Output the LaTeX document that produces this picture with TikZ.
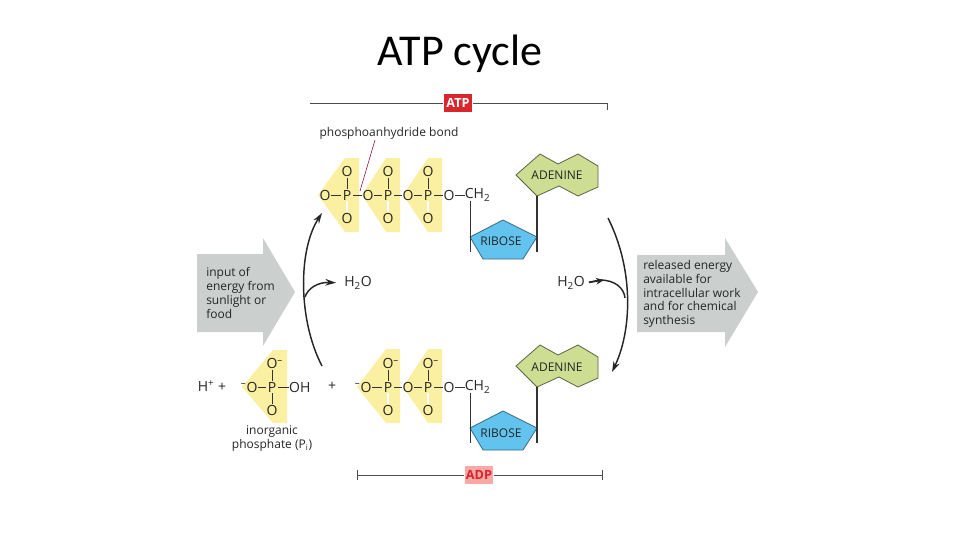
\documentclass[tikz,border=0pt]{standalone}
\usepackage{fontspec}
\setmainfont{Open Sans}
\newfontfamily\titlefont{Carlito}
\usepackage{tikz}
\usetikzlibrary{arrows.meta, positioning}
\definecolor{phosyellow}{HTML}{FBEFA2}
\definecolor{adeninegreen}{HTML}{CDDD92}
\definecolor{ribosecyan}{HTML}{62C3EE}
\definecolor{energygrey}{HTML}{CBCFCE}
\definecolor{atpred}{HTML}{D9252C}
\definecolor{adppink}{HTML}{F6A9A5}

\begin{document}
\begin{tikzpicture}[
  x=0.75pt, y=-0.75pt,
  node distance=6pt and 6pt,
  every node/.style={font=\fontsize{9}{10.3}\selectfont, text=black!85},
  atom/.style={minimum size=9pt, inner sep=0pt, font=\fontsize{10.5}{12}\selectfont},
  bond/.style={black!80, line width=0.5pt},
  dblbond/.style={black!80, double, double distance=1pt, line width=0.35pt},
  phos/.style={fill=phosyellow},
  cycle/.style={-{Stealth[length=8pt, width=5pt]}, line width=1.1pt, black!85},
  energy/.style={fill=energygrey},
  energytext/.style={align=left, anchor=west, inner sep=0pt},
  sugar/.style={fill=ribosecyan, draw=ribosecyan!55!black, line width=0.6pt},
  base/.style={fill=adeninegreen, draw=adeninegreen!45!black, line width=0.6pt},
  molname/.style={inner sep=0pt, font=\fontsize{9}{10}\selectfont},
  span/.style={black!70, line width=0.5pt},
  tag/.style={minimum width=21.5pt, minimum height=14pt, inner sep=0pt, font=\fontsize{9.5}{10}\selectfont\bfseries},
]
\useasboundingbox (0,0) rectangle (960,540);

% Title
\node[inner sep=0pt, font=\titlefont\fontsize{33}{36}\selectfont, text=black] (title) at (460,54) {ATP cycle};

% Energy arrows
\path[energy] (197,254) -- (263,254) -- (263,238) -- (295,292) -- (263,346) -- (263,332) -- (197,332) -- cycle;
\path[energy] (637,255) -- (725,255) -- (725,238) -- (758,292) -- (725,347) -- (725,332) -- (637,332) -- cycle;
\node[energytext] (input) at (206,293) {input of\\energy from\\sunlight or\\food};
\node[energytext] (released) at (643,294) {released energy\\available for\\intracellular work\\and for chemical\\synthesis};

% Phosphate backgrounds
\path[phos] (318,195) -- (345,158) -- (359,158) -- (359,232) -- (345,232) -- cycle;
\path[phos] (362,195) -- (386,158) -- (400,158) -- (400,232) -- (386,232) -- cycle;
\path[phos] (403,195) -- (428,158) -- (442,158) -- (442,232) -- (428,232) -- cycle;
\path[phos] (357,387) -- (386,349) -- (400,349) -- (400,423) -- (386,423) -- cycle;
\path[phos] (403,387) -- (428,349) -- (442,349) -- (442,423) -- (428,423) -- cycle;
\path[phos] (242,387) -- (273,350) -- (287,350) -- (287,423) -- (273,423) -- cycle;

% ATP phosphates
\node[atom] (oa) at (325,195) {O};
\node[atom] (pa) at (347,195) {P};
\node[atom] (ob) at (368,195) {O};
\node[atom] (pb) at (388,195) {P};
\node[atom] (oc) at (408,195) {O};
\node[atom] (pc) at (428,195) {P};
\node[atom] (od) at (449,195) {O};
\node[atom, right=7pt of od] (cha) {CH\textsubscript{2}};
\node[atom, above=8pt of pa] (oat) {O};
\node[atom, below=8pt of pa] (oab) {O};
\node[atom, above=8pt of pb] (obt) {O};
\node[atom, below=8pt of pb] (obb) {O};
\node[atom, above=8pt of pc] (oct) {O};
\node[atom, below=8pt of pc] (ocb) {O};
\draw[bond] (oa) -- (pa) -- (ob) -- (pb) -- (oc) -- (pc) -- (od) -- (cha);
\draw[bond] (pa) -- (oat);
\draw[bond] (pb) -- (obt);
\draw[bond] (pc) -- (oct);
\draw[dblbond] (pa) -- (oab);
\draw[dblbond] (pb) -- (obb);
\draw[dblbond] (pc) -- (ocb);

% ADP phosphates
\node[atom] (oe) at (366,387) {\llap{\textsuperscript{--}}O};
\node[atom] (pe) at (388,387) {P};
\node[atom] (of) at (408,387) {O};
\node[atom] (pf) at (428,387) {P};
\node[atom] (og) at (449,387) {O};
\node[atom, right=7pt of og] (chb) {CH\textsubscript{2}};
\node[atom, above=8pt of pe] (oet) {O\rlap{\textsuperscript{--}}};
\node[atom, below=8pt of pe] (oeb) {O};
\node[atom, above=8pt of pf] (oft) {O\rlap{\textsuperscript{--}}};
\node[atom, below=8pt of pf] (ofb) {O};
\draw[bond] (oe) -- (pe) -- (of) -- (pf) -- (og) -- (chb);
\draw[bond] (pe) -- (oet);
\draw[bond] (pf) -- (oft);
\draw[dblbond] (pe) -- (oeb);
\draw[dblbond] (pf) -- (ofb);

% Inorganic phosphate
\node[atom] (hplus) at (212,386) {H\textsuperscript{+} +};
\node[atom] (oi) at (252,387) {\llap{\textsuperscript{--}}O};
\node[atom] (pi) at (272,387) {P};
\node[atom, right=8pt of pi] (oh) {OH};
\node[atom, above=8pt of pi] (oit) {O\rlap{\textsuperscript{--}}};
\node[atom, below=8pt of pi] (oib) {O};
\node[atom] (plus) at (332,386) {+};
\draw[bond] (oi) -- (pi) -- (oh);
\draw[bond] (pi) -- (oit);
\draw[bond] (pi) -- (oib);
\node[align=center, inner sep=0pt, below=7pt of oib] (pilabel) {inorganic\\phosphate (P\textsubscript{i})};

% Ribose and adenine of ATP
\draw[sugar] (470,237) coordinate (ribal) -- (503,220) -- (537,237) coordinate (ribar) -- (523,259) -- (483,259) -- cycle;
\node[molname] (ribosea) at (501,241) {RIBOSE};
\draw[base] (516,175) -- (540,154) -- (558,164) -- (578,154) -- (598,166) -- (598,187) -- (578,196) -- (559,186) -- (537,196) coordinate (adea) -- cycle;
\node[molname] (adeninea) at (557,175) {ADENINE};
\coordinate (enda) at (470,252);
\coordinate (endb) at (537,252);
\draw[bond] (cha.south -| ribal) -- (enda);
\draw[bond, line width=0.9pt] (adea) -- (endb);

% Ribose and adenine of ADP
\draw[sugar] (470,428) coordinate (ribbl) -- (503,411) -- (537,428) coordinate (ribbr) -- (523,450) -- (483,450) -- cycle;
\node[molname] (riboseb) at (501,433) {RIBOSE};
\draw[base] (516,366) -- (540,345) -- (558,355) -- (578,345) -- (598,357) -- (598,378) -- (578,387) -- (559,377) -- (537,387) coordinate (adeb) -- cycle;
\node[molname] (adenineb) at (557,367) {ADENINE};
\coordinate (endc) at (470,443);
\coordinate (endd) at (537,443);
\draw[bond] (chb.south -| ribbl) -- (endc);
\draw[bond, line width=0.9pt] (adeb) -- (endd);

% Brackets
\node[tag, fill=atpred, text=white] (atp) at (458,103) {ATP};
\node[tag, fill=adppink, text=atpred] (adp) at (479,475) {ADP};
\coordinate (atpl) at (310,103);
\coordinate (atpr) at (607,103);
\coordinate (atptick) at (607,110);
\coordinate (adpl) at (357,475);
\coordinate (adpr) at (602,475);
\draw[span] (atpl) -- (atp) -- (atpr) -- (atptick);
\draw[span] (adpl) -- (adp) -- (adpr);
\draw[span] ([yshift=4pt]adpl) -- ([yshift=-4pt]adpl);
\draw[span] ([yshift=4pt]adpr) -- ([yshift=-4pt]adpr);

% Bond label
\node[inner sep=0pt] (bondlabel) at (389,133) {phosphoanhydride bond};
\coordinate (bondtip) at (360,191);
\draw[line width=0.4pt, purple!70!black] (375,140) coordinate (bondtop) -- (bondtip);

% Water
\node[atom] (wl) at (358,283) {H\textsubscript{2}O};
\node[atom] (wr) at (571,283) {H\textsubscript{2}O};

% Cycle arrows
\coordinate (lstart) at (322,366);
\coordinate (lend) at (322,213);
\coordinate (lmid) at (305,297);
\coordinate (rstart) at (608,218);
\coordinate (rend) at (612,372);
\coordinate (rmid) at (625,298);
\draw[cycle] (lstart) .. controls (298,320) and (298,250) .. (lend);
\draw[cycle] (rstart) .. controls (634,270) and (632,330) .. (rend);
\draw[cycle, shorten >=6pt] (lmid) .. controls (308,288) and (318,282) .. (wl.west);
\draw[line width=1.1pt, black!85, shorten <=3pt] (wr.east) -- (600,280) .. controls (615,280) and (624,288) .. (rmid);
\draw[-{Stealth[length=6pt, width=5pt]}, line width=1.1pt, black!85, shorten <=3pt] (wr.east) -- (604,280);
\end{tikzpicture}
\end{document}
